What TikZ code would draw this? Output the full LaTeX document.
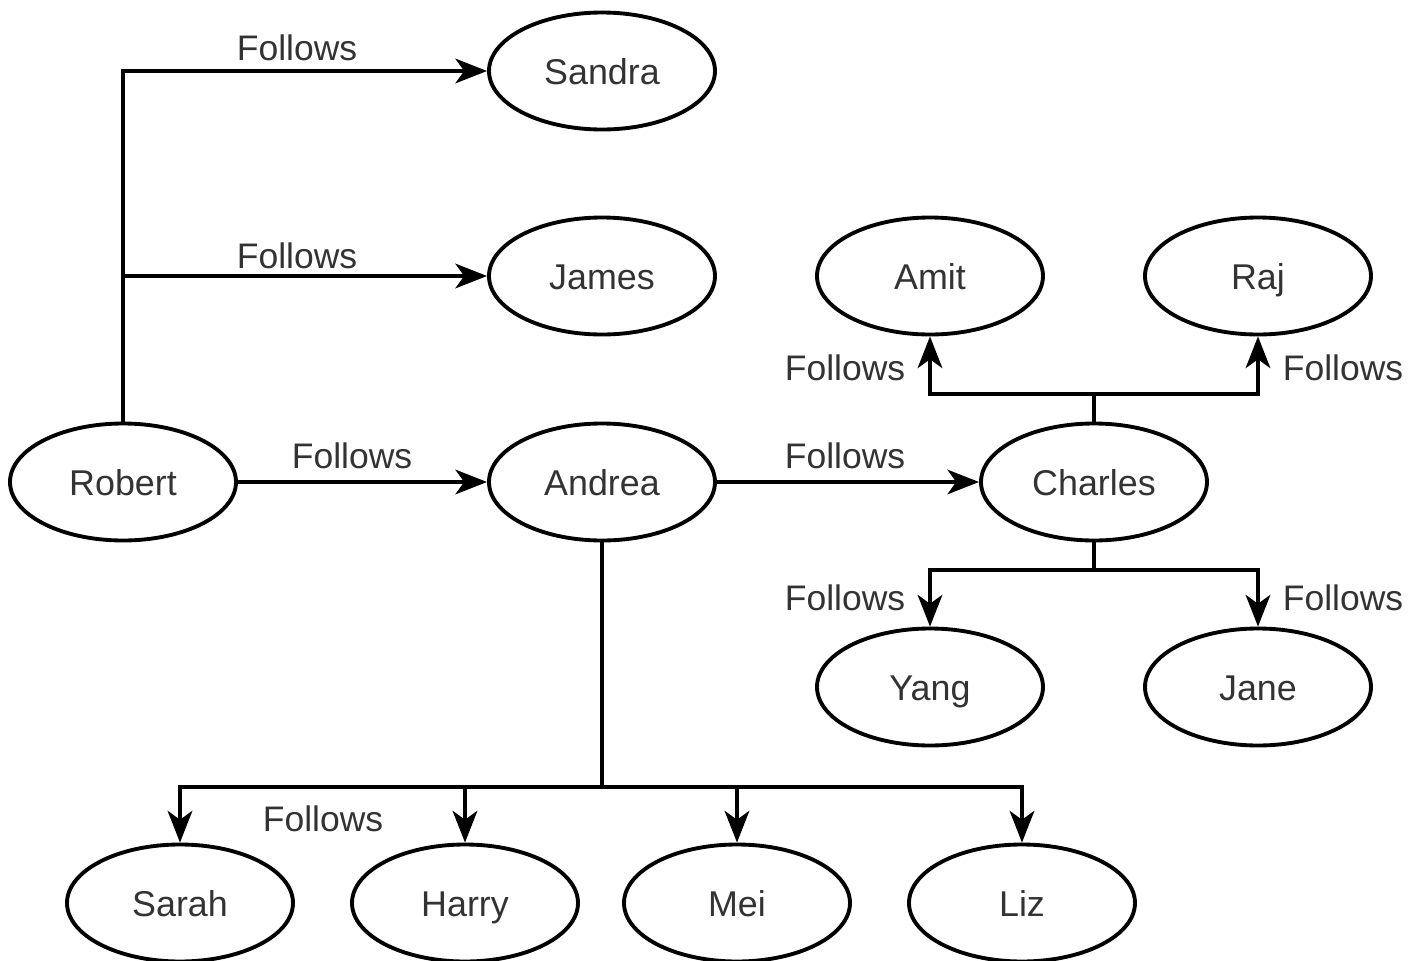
\documentclass[tikz,border=0pt]{standalone}
\usepackage{fontspec}
\setmainfont{Liberation Sans}
\usetikzlibrary{shapes.geometric,arrows.meta}

\tikzset{
  person/.style={ellipse, draw, line width=1.1pt, minimum width=2.26cm,
    minimum height=1.17cm, inner sep=0pt, font=\fontsize{10.2}{12}\selectfont,
    text height=7.4pt, text depth=0pt, text=black!80},
  follows/.style={-{Stealth[length=9pt,width=7pt,inset=2.5pt]}, line width=1.1pt},
  link/.style={line width=1.1pt},
  lbl/.style={font=\fontsize{10.1}{12}\selectfont, text=black!80, inner sep=0pt}
}

\begin{document}
\begin{tikzpicture}

        \useasboundingbox (0,0) rectangle (14.19,9.6);

        % 1. Persone
        \node[person] (sandra)  at (6.02,8.89) {Sandra};
        \node[person] (james)   at (6.02,6.84) {James};
        \node[person] (robert)  at (1.23,4.78) {Robert};
        \node[person] (andrea)  at (6.02,4.78) {Andrea};
        \node[person] (charles) at (10.94,4.78) {Charles};
        \node[person] (amit)    at (9.30,6.84) {Amit};
        \node[person] (raj)     at (12.58,6.84) {Raj};
        \node[person] (yang)    at (9.30,2.73) {Yang};
        \node[person] (jane)    at (12.58,2.73) {Jane};
        \node[person] (sarah)   at (1.80,0.57) {Sarah};
        \node[person] (harry)   at (4.65,0.57) {Harry};
        \node[person] (mei)     at (7.37,0.57) {Mei};
        \node[person] (liz)     at (10.22,0.57) {Liz};

        % 2. Robert segue Sandra, James e Andrea
        \coordinate (rfork) at (robert.north |- james.west);
        \draw[follows] (robert.north) |- (sandra.west);
        \draw[follows] (rfork) -- (james.west);
        \draw[follows] (robert.east) -- (andrea.west);

        % 3. Andrea segue Charles
        \draw[follows] (andrea.east) -- (charles.west);

        % 4. Charles segue Amit e Raj (sopra), Yang e Jane (sotto)
        \coordinate (cup) at (10.94,5.66);
        \coordinate (cdown) at (10.94,3.90);
        \draw[link] (charles.north) -- (cup);
        \draw[follows] (cup) -| (amit.south);
        \draw[follows] (cup) -| (raj.south);
        \draw[link] (charles.south) -- (cdown);
        \draw[follows] (cdown) -| (yang.north);
        \draw[follows] (cdown) -| (jane.north);

        % 5. Andrea segue Sarah, Harry, Mei e Liz
        \coordinate (adown) at (6.02,1.73);
        \draw[link] (andrea.south) -- (adown);
        \foreach \p in {sarah,harry,mei,liz}
          \draw[follows] (adown) -| (\p.north);

        % 6. Etichette
        \node[lbl] (fsandra)  at (2.97,9.12) {Follows};
        \node[lbl] (fjames)   at (2.97,7.04) {Follows};
        \node[lbl] (fandrea)  at (3.52,5.04) {Follows};
        \node[lbl] (fcharles) at (8.45,5.04) {Follows};
        \node[lbl] (famit)    at (8.45,5.92) {Follows};
        \node[lbl] (fraj)     at (13.43,5.92) {Follows};
        \node[lbl] (fyang)    at (8.45,3.62) {Follows};
        \node[lbl] (fjane)    at (13.43,3.62) {Follows};
        \node[lbl] (fsarah)   at (3.23,1.41) {Follows};
    \end{tikzpicture}
\end{document}
